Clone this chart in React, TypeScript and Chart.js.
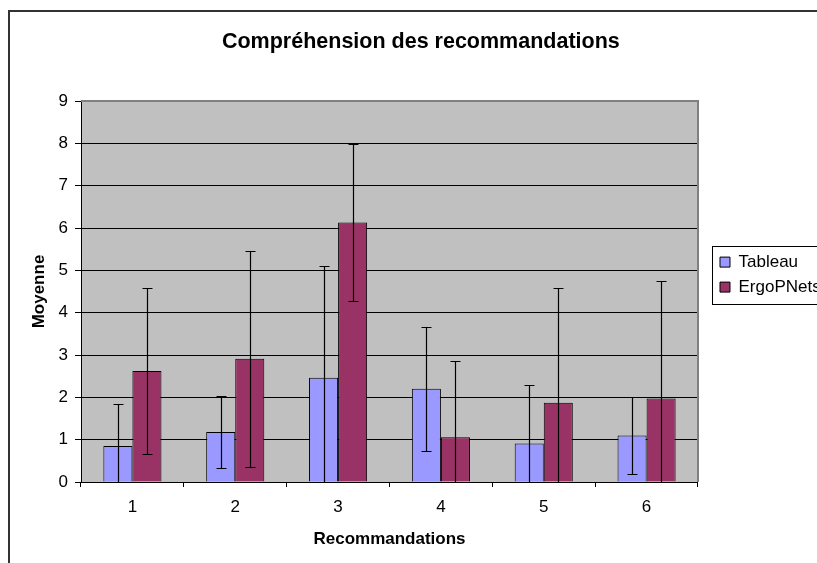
import React, { useEffect, useRef } from "react";
import { Chart, registerables } from "chart.js";

Chart.register(...registerables);

const categories = ["1", "2", "3", "4", "5", "6"];
const tableau = [0.85, 1.18, 2.46, 2.2, 0.91, 1.1];
const tableauErr = [1.0, 0.84, 2.65, 1.46, 1.38, 0.9];
const ergo = [2.62, 2.91, 6.13, 1.06, 1.87, 1.97];
const ergoErr = [1.97, 2.55, 1.85, 1.81, 2.72, 2.78];
const yMin = 0;
const yMax = 9;
const yStep = 1;

const FAMILY = "'Liberation Sans', Arial, sans-serif";

const framePlugin = {
  id: "frame",
  afterLayout(chart: any) {
    // centre the title on the visible area rather than on the wider canvas
    const tb = chart.titleBlock;
    if (tb) tb.right -= 18;
  },
  beforeDraw(chart: any) {
    const { ctx, chartArea } = chart;
    ctx.save();
    ctx.fillStyle = "#ffffff";
    ctx.fillRect(0, 0, chart.width, chart.height);
    ctx.strokeStyle = "#333333";
    ctx.lineWidth = 2;
    ctx.strokeRect(9, 11, 3000, 3000);
    ctx.fillStyle = "#C0C0C0";
    ctx.fillRect(chartArea.left, chartArea.top, chartArea.right - chartArea.left, chartArea.bottom - chartArea.top);
    ctx.restore();
  },
  afterDraw(chart: any) {
    const { ctx, chartArea, legend } = chart;
    ctx.save();
    ctx.strokeStyle = "#808080";
    ctx.lineWidth = 2;
    ctx.beginPath();
    ctx.moveTo(chartArea.left, chartArea.top);
    ctx.lineTo(chartArea.right, chartArea.top);
    ctx.lineTo(chartArea.right, chartArea.bottom);
    ctx.stroke();
    if (legend && legend.legendHitBoxes && legend.legendHitBoxes.length) {
      const hb = legend.legendHitBoxes;
      const top = hb[0].top - 8;
      const last = hb[hb.length - 1];
      const bottom = last.top + last.height + 8;
      ctx.strokeStyle = "#000000";
      ctx.lineWidth = 1;
      ctx.strokeRect(Math.round(legend.left) + 0.5, Math.round(top) + 0.5, 400, Math.round(bottom - top));
    }
    ctx.restore();
  },
};

const errorBarPlugin = {
  id: "errorBars",
  afterDatasetsDraw(chart: any) {
    const { ctx, chartArea } = chart;
    const yScale = chart.scales.y;
    ctx.save();
    ctx.beginPath();
    ctx.rect(chartArea.left, chartArea.top, chartArea.right - chartArea.left, chartArea.bottom - chartArea.top);
    ctx.clip();
    ctx.strokeStyle = "#000000";
    ctx.lineWidth = 1.2;
    chart.data.datasets.forEach((ds: any, di: number) => {
      const meta = chart.getDatasetMeta(di);
      const errs: number[] = ds.errors || [];
      meta.data.forEach((bar: any, i: number) => {
        const v = ds.data[i];
        const e = errs[i];
        if (e == null) return;
        const x = Math.round(bar.x) + 0.5;
        const yT = Math.round(yScale.getPixelForValue(v + e)) + 0.5;
        const yB = Math.round(yScale.getPixelForValue(v - e)) + 0.5;
        ctx.beginPath();
        ctx.moveTo(x, yT);
        ctx.lineTo(x, yB);
        ctx.moveTo(x - 5, yT);
        ctx.lineTo(x + 5, yT);
        if (v - e >= yMin) {
          ctx.moveTo(x - 5, yB);
          ctx.lineTo(x + 5, yB);
        }
        ctx.stroke();
      });
    });
    ctx.restore();
  },
};

export default function App() {
  const ref = useRef<HTMLCanvasElement | null>(null);

  useEffect(() => {
    if (!ref.current) return;
    const tickFont = { family: FAMILY, size: 17 };
    const titleFont = { family: FAMILY, size: 17, weight: "bold" as const };
    const chart = new Chart(ref.current, {
      type: "bar",
      data: {
        labels: categories,
        datasets: [
          {
            label: "Tableau",
            data: tableau,
            errors: tableauErr,
            backgroundColor: "#9999FF",
            borderColor: "#000000",
            borderWidth: 1,
            categoryPercentage: 0.565,
            barPercentage: 1.0,
          } as any,
          {
            label: "ErgoPNets",
            data: ergo,
            errors: ergoErr,
            backgroundColor: "#993366",
            borderColor: "#000000",
            borderWidth: 1,
            categoryPercentage: 0.565,
            barPercentage: 1.0,
          } as any,
        ],
      },
      options: {
        responsive: false,
        animation: false,
        devicePixelRatio: 1,
        layout: { padding: { left: 29, right: 9.3, top: 0, bottom: 13.8 } },
        plugins: {
          title: {
            display: true,
            text: "Compréhension des recommandations",
            color: "#000000",
            font: { family: FAMILY, size: 21.5, weight: "bold", lineHeight: 1.2 },
            padding: { top: 29.1, bottom: 46.1 },
          },
          legend: {
            position: "right",
            align: "center",
            labels: {
              boxWidth: 10,
              boxHeight: 10,
              padding: 8,
              color: "#000000",
              font: tickFont,
            },
          },
          tooltip: { enabled: false },
        },
        scales: {
          x: {
            offset: true,
            grid: { display: true, drawOnChartArea: false, tickLength: 5, color: "#000000", offset: true },
            border: { display: true, color: "#000000", width: 1 },
            ticks: { padding: 10, color: "#000000", font: tickFont },
            title: { display: true, text: "Recommandations", color: "#000000", font: titleFont, padding: 0 },
            afterFit: (s: any) => {
              s.height = 67.2;
            },
          },
          y: {
            min: yMin,
            max: yMax,
            ticks: { stepSize: yStep, padding: 7, color: "#000000", font: tickFont },
            grid: { color: "#000000", tickLength: 6 },
            border: { display: true, color: "#000000", width: 1 },
            title: { display: true, text: "Moyenne", color: "#000000", font: titleFont, padding: 0 },
            afterFit: (s: any) => {
              s.width = 52;
            },
          },
          gap: {
            axis: "y",
            position: "right",
            display: true,
            grid: { display: false },
            ticks: { display: false },
            border: { display: false },
            afterFit: (s: any) => {
              s.width = 14;
            },
          } as any,
        },
      },
      plugins: [framePlugin, errorBarPlugin],
    });
    return () => chart.destroy();
  }, []);

  return (
    <div
      style={{
        position: "fixed",
        left: 0,
        top: 0,
        width: 817,
        height: 563,
        overflow: "hidden",
        background: "#ffffff",
      }}
    >
      <canvas ref={ref} width={840} height={563} style={{ display: "block" }} />
    </div>
  );
}
